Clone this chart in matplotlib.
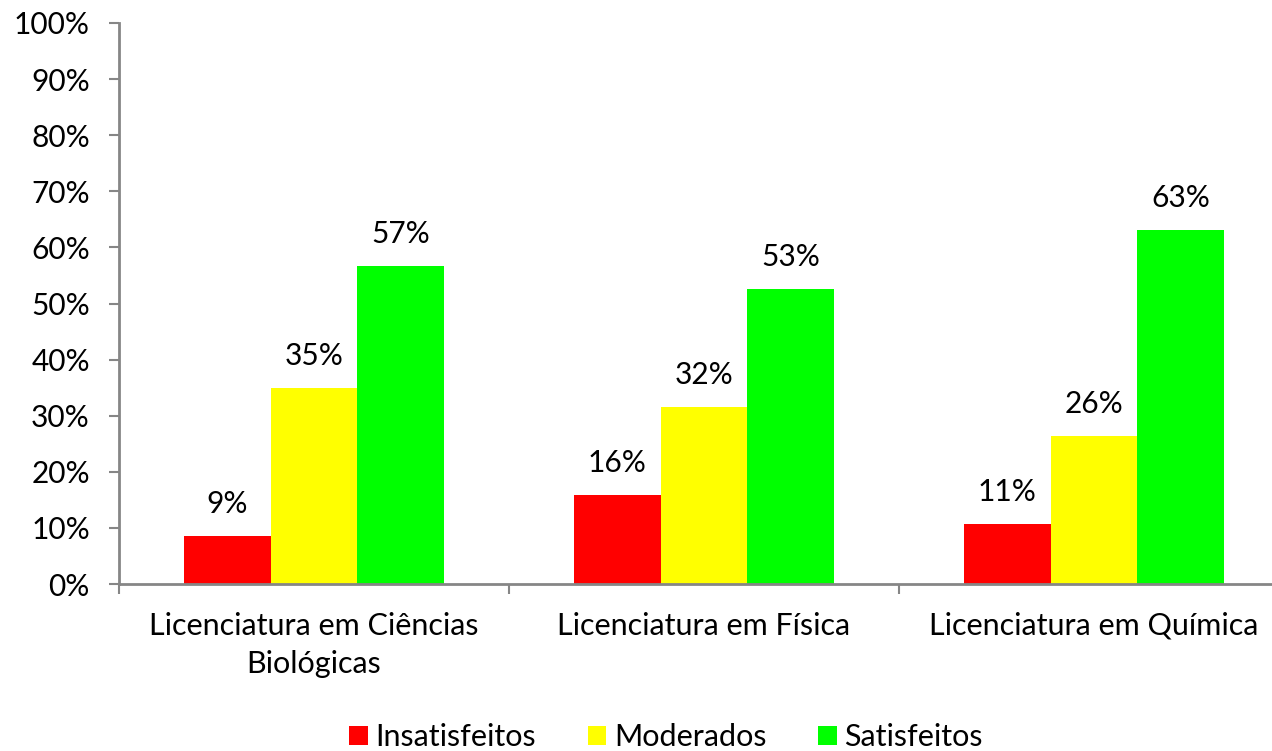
import matplotlib.pyplot as plt
import numpy as np

# Satisfação por curso de licenciatura (%)
cursos = ['Licenciatura em Ciências\nBiológicas', 'Licenciatura em Física', 'Licenciatura em Química']
grupos = ['Insatisfeitos', 'Moderados', 'Satisfeitos']
insatisfeitos = [8.6, 15.9, 10.7]
moderados = [34.9, 31.6, 26.4]
satisfeitos = [56.6, 52.6, 63.1]
cores = ['#ff0000', '#ffff00', '#00ff00']

plt.rcParams['font.family'] = ['Lato', 'DejaVu Sans']

fig = plt.figure(figsize=(12.72, 7.51), dpi=100)
ax = fig.add_axes([119 / 1272, 167 / 751, 1170 / 1272, 561 / 751])

x = np.arange(len(cursos))
w = 0.222
series = [insatisfeitos, moderados, satisfeitos]
for i, (vals, nome, cor) in enumerate(zip(series, grupos, cores)):
    bars = ax.bar(x + (i - 1) * w, vals, width=w, color=cor, label=nome)
    for b, v in zip(bars, vals):
        ax.annotate(f'{v:.0f}%', (b.get_x() + b.get_width() / 2, v),
                    xytext=(0, 13), textcoords='offset points',
                    ha='center', va='bottom', fontsize=21.5)

ax.set_xlim(-0.5, 2.5)
ax.set_ylim(0, 100)
ax.set_yticks(np.arange(0, 101, 10))
ax.set_yticklabels([f'{t}%' for t in range(0, 101, 10)], fontsize=21.5)

# rótulos das categorias no centro, marcas entre as categorias
ax.set_xticks(x)
ax.set_xticklabels(cursos, fontsize=22, linespacing=1.45)
ax.tick_params(axis='x', length=0, pad=20)
ax.set_xticks([-0.5, 0.5, 1.5, 2.5], minor=True)
ax.tick_params(axis='x', which='minor', length=7, width=1.5, color='#868686', direction='out')
ax.tick_params(axis='y', length=7, width=1.5, color='#868686', pad=14)

for s in ['top', 'right']:
    ax.spines[s].set_visible(False)
for s in ['left', 'bottom']:
    ax.spines[s].set_color('#868686')
    ax.spines[s].set_linewidth(2)

fig.legend(loc='center', bbox_to_anchor=(666 / 1272, 1 - 737 / 751), ncol=3,
           frameon=False, fontsize=22, handlelength=0.6, handleheight=0.6,
           handletextpad=0.25, columnspacing=1.7)

plt.savefig('out.png', dpi=100)
